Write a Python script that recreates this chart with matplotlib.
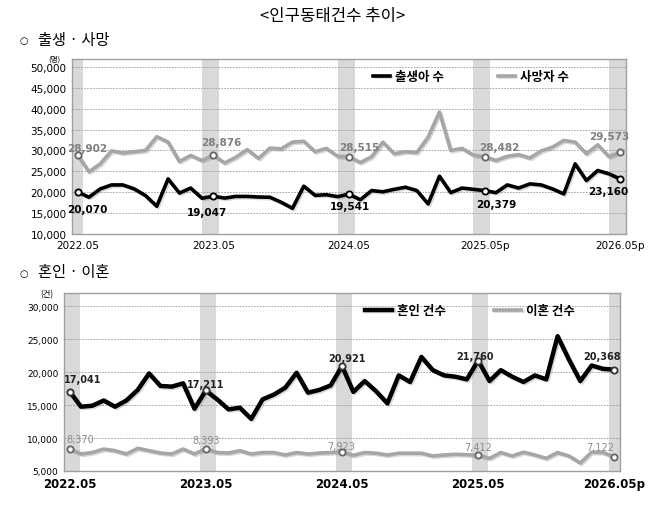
import numpy as np
import matplotlib
matplotlib.use('Agg')
import matplotlib.pyplot as plt
import matplotlib.patheffects as pe

plt.rcParams['font.family'] = ['Noto Sans CJK KR', 'DejaVu Sans']

months = np.arange(49)
may_idx = [0, 12, 24, 36, 48]

# 출생 / 사망 (명)
births = [20070, 18800, 20800, 21750, 21750, 20800, 19200, 16640, 23200, 19800,
          21000, 18560, 19047, 18600, 19000, 19000, 18850, 18800, 17600, 16150,
          21450, 19250, 19400, 18950, 19541, 18200, 20400, 20100, 20700, 21200,
          20400, 17200, 23840, 19900, 21000, 20700, 20379, 19900, 21750, 21000,
          22000, 21750, 20800, 19600, 26800, 22800, 25200, 24400, 23160]
deaths = [28902, 24900, 26800, 29900, 29400, 29700, 30000, 33300, 32000, 27350,
          28800, 27600, 28876, 27000, 28400, 30200, 28100, 30560, 30400, 32000,
          32200, 29700, 30500, 28600, 28515, 27100, 28500, 32000, 29200, 29700,
          29500, 33200, 39200, 30000, 30500, 28900, 28482, 27600, 28600, 29000,
          28200, 29900, 30800, 32400, 32000, 29200, 31350, 28500, 29573]

# 혼인 / 이혼 (건)
marriages = [17041, 14750, 14900, 15700, 14750, 15700, 17300, 19800, 17900, 17800,
             18300, 14450, 17211, 15860, 14350, 14600, 12900, 15860, 16600, 17630,
             19900, 16880, 17300, 17980, 20921, 17000, 18640, 17100, 15260, 19500,
             18500, 22300, 20300, 19500, 19300, 18900, 21760, 18640, 20300, 19300,
             18500, 19500, 18900, 25450, 21900, 18640, 21000, 20500, 20368]
divorces = [8370, 7580, 7800, 8330, 8080, 7580, 8440, 8080, 7730, 7580,
            8330, 7580, 8393, 7800, 7730, 8080, 7580, 7800, 7800, 7430,
            7800, 7580, 7730, 7800, 7923, 7380, 7800, 7700, 7430, 7700,
            7700, 7700, 7280, 7430, 7530, 7480, 7412, 6920, 7800, 7280,
            7850, 7430, 6920, 7800, 7280, 6210, 7850, 7800, 7122]

top_xlabels = ['2022.05', '2023.05', '2024.05', '2025.05p', '2026.05p']
bot_xlabels = ['2022.05', '2023.05', '2024.05', '2025.05', '2026.05p']

fig = plt.figure(figsize=(6.57, 5.06), dpi=100)
W, H = 657, 506

fig.text(333 / W, 1 - 17 / H, '<인구동태건수 추이>', ha='center', va='center', fontsize=12)
fig.text(24 / W, 1 - 41 / H, '○', ha='center', va='center', fontsize=7, family='DejaVu Sans')
fig.text(38 / W, 1 - 40 / H, '출생 · 사망', ha='left', va='center', fontsize=11)
fig.text(24 / W, 1 - 274 / H, '○', ha='center', va='center', fontsize=7, family='DejaVu Sans')
fig.text(38 / W, 1 - 273 / H, '혼인 · 이혼', ha='left', va='center', fontsize=11)
fig.text(54 / W, 1 - 60 / H, '(명)', ha='center', va='center', fontsize=5.5)
fig.text(47 / W, 1 - 295 / H, '(건)', ha='center', va='center', fontsize=6)

ax1 = fig.add_axes([72 / W, 1 - 235 / H, 554 / W, 175 / H])
ax2 = fig.add_axes([64 / W, 1 - 472 / H, 556 / W, 178 / H])

black = '#000000'
grey = '#a6a6a6'
shadow = [pe.SimpleLineShadow(offset=(1, -1), shadow_color='#666666', alpha=0.25), pe.Normal()]


def style_axes(ax, ylim, yticks, xlabels, band, tickfs, xfs, xweight):
    ax.set_xlim(-0.5, 48.5)
    ax.set_ylim(*ylim)
    ax.set_yticks(yticks)
    ax.set_yticklabels([f'{t:,}' for t in yticks], fontsize=tickfs, family='DejaVu Sans')
    ax.set_xticks(may_idx)
    ax.set_xticklabels(xlabels, fontsize=xfs, family='DejaVu Sans', fontweight=xweight)
    ax.tick_params(length=0, pad=4)
    ax.grid(axis='y', color='#9a9a9a', linestyle=(0, (2, 1.5)), linewidth=0.6)
    ax.set_axisbelow(True)
    for s in ax.spines.values():
        s.set_color('#a0a0a0')
        s.set_linewidth(1.0)
    for m in may_idx:
        ax.axvspan(m + band[0], m + band[1], color='#d9d9d9', zorder=0, lw=0)


style_axes(ax1, (10000, 51900), range(10000, 50001, 5000), top_xlabels, (-1.0, 0.5), 7.5, 7.5, 'normal')
style_axes(ax2, (5000, 32000), range(5000, 30001, 5000), bot_xlabels, (-0.5, 0.9), 6.5, 8.5, 'bold')

ax1.plot(months, deaths, color=grey, lw=2.6, solid_joinstyle='round', path_effects=shadow, label='사망자 수')
ax1.plot(months, births, color=black, lw=2.6, solid_joinstyle='round', path_effects=shadow, label='출생아 수')
ax2.plot(months, divorces, color=grey, lw=2.6, solid_joinstyle='round', path_effects=shadow, label='이혼 건수')
ax2.plot(months, marriages, color=black, lw=3.2, solid_joinstyle='round', path_effects=shadow, label='혼인 건수')

for ax, series, col in [(ax1, deaths, '#666666'), (ax1, births, black),
                        (ax2, divorces, '#666666'), (ax2, marriages, '#333333')]:
    ax.plot(may_idx, [series[m] for m in may_idx], 'o', ms=4.5, mfc='white', mec=col, mew=1.3, zorder=5)

# label offsets in pixels
top_death_off = [(10, 7), (8, 13), (10, 10), (15, 10), (-11, 16)]
top_birth_off = [(10, -17), (-6, -16), (1, -12), (12, -13), (-12, -12)]
bot_marr_off = [(13, 13), (0, 6), (5, 8), (-3, 5), (-12, 14)]
bot_div_off = [(11, 10), (0, 9), (-1, 6), (0, 8), (-14, 10)]

for ax, series, offs, col, wt, fs in [(ax1, deaths, top_death_off, '#7f7f7f', 'bold', 7.5),
                                      (ax1, births, top_birth_off, black, 'bold', 7.5),
                                      (ax2, marriages, bot_marr_off, '#222222', 'bold', 7),
                                      (ax2, divorces, bot_div_off, '#8c8c8c', 'normal', 7)]:
    for m, off in zip(may_idx, offs):
        ax.annotate(f'{series[m]:,}', (m, series[m]), xytext=off, textcoords='offset pixels',
                    ha='center', va='center', fontsize=fs, fontweight=wt, color=col,
                    family='DejaVu Sans')

for ax, anchor, hl, cs in [(ax1, 0.72, 1.3, 4.4), (ax2, 0.73, 2.2, 3.8)]:
    h, l = ax.get_legend_handles_labels()
    ax.legend([h[1], h[0]], [l[1], l[0]], loc='upper center',
              bbox_to_anchor=(anchor, 1.0), ncol=2, frameon=False, handlelength=hl,
              columnspacing=cs, handletextpad=0.4, prop={'weight': 'bold', 'size': 9})

fig.savefig('out.png', dpi=100)
